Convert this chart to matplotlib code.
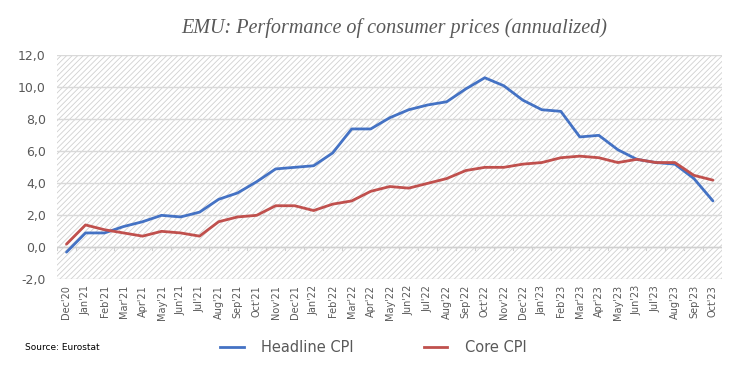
import matplotlib.pyplot as plt
import numpy as np
from matplotlib.lines import Line2D

months = ["Dec'20", "Jan'21", "Feb'21", "Mar'21", "Apr'21", "May'21", "Jun'21", "Jul'21",
          "Aug'21", "Sep'21", "Oct'21", "Nov'21", "Dec'21", "Jan'22", "Feb'22", "Mar'22",
          "Apr'22", "May'22", "Jun'22", "Jul'22", "Aug'22", "Sep'22", "Oct'22", "Nov'22",
          "Dec'22", "Jan'23", "Feb'23", "Mar'23", "Apr'23", "May'23", "Jun'23", "Jul'23",
          "Aug'23", "Sep'23", "Oct'23"]
headline = [-0.3, 0.9, 0.9, 1.3, 1.6, 2.0, 1.9, 2.2, 3.0, 3.4, 4.1, 4.9, 5.0, 5.1, 5.9, 7.4,
            7.4, 8.1, 8.6, 8.9, 9.1, 9.9, 10.6, 10.1, 9.2, 8.6, 8.5, 6.9, 7.0, 6.1, 5.5, 5.3,
            5.2, 4.3, 2.9]
core = [0.2, 1.4, 1.1, 0.9, 0.7, 1.0, 0.9, 0.7, 1.6, 1.9, 2.0, 2.6, 2.6, 2.3, 2.7, 2.9,
        3.5, 3.8, 3.7, 4.0, 4.3, 4.8, 5.0, 5.0, 5.2, 5.3, 5.6, 5.7, 5.6, 5.3, 5.5, 5.3,
        5.3, 4.5, 4.2]
yticks = [-2, 0, 2, 4, 6, 8, 10, 12]

blue = '#4472C4'
red = '#C0504D'
grey = '#595959'

plt.rcParams['hatch.color'] = '#d0d0d0'
plt.rcParams['hatch.linewidth'] = 0.6

fig = plt.figure(figsize=(7.44, 3.69), dpi=100)
ax = fig.add_axes([0.0766, 0.243, 0.8944, 0.607])

ax.patch.set_facecolor('white')
ax.patch.set_hatch('//////')
ax.patch.set_edgecolor('#d0d0d0')
ax.patch.set_linewidth(0)

x = np.arange(len(months))
ax.plot(x, headline, color=blue, lw=2, solid_joinstyle='round', solid_capstyle='round', zorder=3)
ax.plot(x, core, color=red, lw=2, solid_joinstyle='round', solid_capstyle='round', zorder=3)

ax.set_xlim(-0.5, len(months) - 0.5)
ax.set_ylim(-2, 12)
ax.set_yticks(yticks)
ax.set_yticklabels([f"{v:.1f}".replace('.', ',') for v in yticks], fontsize=9, color=grey)
ax.tick_params(axis='y', length=0, pad=8)
ax.grid(axis='y', color='#d9d9d9', lw=1)
ax.set_axisbelow(True)

ax.set_xticks(x)
ax.set_xticklabels(months, rotation=90, fontsize=7, color=grey)
ax.tick_params(axis='x', length=0, pad=4)
# small ticks at category borders on the zero line
ax.axhline(0, color='#d0d0d0', lw=1, zorder=2)
for b in np.arange(-0.5, len(months), 1.0):
    ax.plot([b, b], [0, -0.15], color='#d0d0d0', lw=0.8, zorder=2)

for s in ax.spines.values():
    s.set_visible(False)

fig.text(0.53, 0.925, "EMU: Performance of consumer prices (annualized)",
         fontsize=14.5, color=grey, style='italic', family='Liberation Serif', ha='center', va='center')
fig.text(0.034, 0.057, "Source: Eurostat", fontsize=6.5, color='black', va='center')

handles = [Line2D([], [], color=blue, lw=2), Line2D([], [], color=red, lw=2)]
fig.legend(handles, ['Headline CPI', 'Core CPI'], loc='center', bbox_to_anchor=(0.502, 0.057),
           ncol=2, frameon=False, fontsize=10.5, handlelength=1.6, handletextpad=1.2,
           columnspacing=4.8, labelcolor=grey)

fig.savefig('out.png', dpi=100)
